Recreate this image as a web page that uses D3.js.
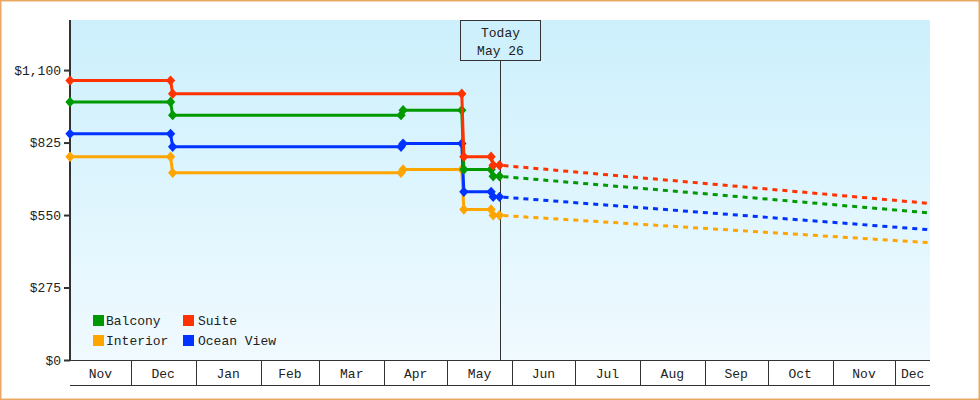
<!DOCTYPE html>
<html>
<head>
<meta charset="utf-8">
<script src="https://cdn.jsdelivr.net/npm/d3@7"></script>
<style>
  body { margin: 0; background: #fff; }
  svg text { font-family: "Liberation Mono", "DejaVu Sans Mono", monospace; font-size: 13px; fill: #222; }
</style>
</head>
<body>
<div id="container"></div>
<script>
// Cabin categories and price history (step changes)
var categories = ["Balcony", "Suite", "Interior", "Ocean View"];
var colors = ["#009900", "#ff3300", "#ffa500", "#0033ff"];

var balconyDates = ["2018-11-02", "2018-12-20", "2018-12-21", "2019-04-09", "2019-04-10", "2019-05-08", "2019-05-09", "2019-05-22", "2019-05-23", "2019-05-26"];
var balconyPrices = [979, 979, 929, 929, 948, 948, 723, 723, 697, 697];

var suiteDates = ["2018-11-02", "2018-12-20", "2018-12-21", "2019-05-08", "2019-05-09", "2019-05-22", "2019-05-23", "2019-05-26"];
var suitePrices = [1060, 1060, 1010, 1010, 771, 771, 739, 739];

var interiorDates = ["2018-11-02", "2018-12-20", "2018-12-21", "2019-04-09", "2019-04-10", "2019-05-08", "2019-05-09", "2019-05-22", "2019-05-23", "2019-05-26"];
var interiorPrices = [771, 771, 710, 710, 723, 723, 571, 571, 549, 549];

var oceanDates = ["2018-11-02", "2018-12-20", "2018-12-21", "2019-04-09", "2019-04-10", "2019-05-08", "2019-05-09", "2019-05-22", "2019-05-23", "2019-05-26"];
var oceanPrices = [858, 858, 809, 809, 821, 821, 638, 638, 619, 619];

// Projected prices (dashed), today -> end of chart
var forecastDates = ["2019-05-26", "2019-12-17T12:00"];
var balconyForecast = [697, 558];
var suiteForecast = [739, 594];
var interiorForecast = [549, 445];
var oceanForecast = [619, 494];

var yTicks = [0, 275, 550, 825, 1100];
var todayDate = "2019-05-26T10:00";
var todayLabel = ["Today", "May 26"];

var parse = d3.isoParse;

function zip(dates, values) {
	return dates.map(function(d, i) { return {date: parse(d), value: values[i]}; });
}

var series = [
	{name: "Balcony", color: colors[0], hist: zip(balconyDates, balconyPrices), fc: zip(forecastDates, balconyForecast)},
	{name: "Suite", color: colors[1], hist: zip(suiteDates, suitePrices), fc: zip(forecastDates, suiteForecast)},
	{name: "Interior", color: colors[2], hist: zip(interiorDates, interiorPrices), fc: zip(forecastDates, interiorForecast)},
	{name: "Ocean View", color: colors[3], hist: zip(oceanDates, oceanPrices), fc: zip(forecastDates, oceanForecast)}
];

var width = 980, height = 400;
var plotLeft = 70, plotRight = 930, plotTop = 20, plotBottom = 360;

var svg = d3.select("#container")
			.append("svg")
			.attr("width", width)
			.attr("height", height);

// Background gradient
var grad = svg.append("defs").append("linearGradient")
	.attr("id", "bg")
	.attr("x1", 0).attr("y1", 0).attr("x2", 0).attr("y2", 1);
grad.append("stop").attr("offset", "0%").attr("stop-color", "#ccf0fc");
grad.append("stop").attr("offset", "100%").attr("stop-color", "#f0faff");

// Outer frame
svg.append("rect")
	.attr("x", 0.75).attr("y", 0.75)
	.attr("width", width - 1.5).attr("height", height - 1.5)
	.attr("fill", "#fff")
	.attr("stroke", "#e8a862")
	.attr("stroke-width", 1.5);

svg.append("rect")
	.attr("x", plotLeft).attr("y", plotTop)
	.attr("width", plotRight - plotLeft).attr("height", plotBottom - plotTop)
	.attr("fill", "url(#bg)");

// Scales
var x = d3.scaleTime()
	.domain([parse("2018-11-02"), parse("2019-12-17T12:00")])
	.range([plotLeft, plotRight]);
var y = d3.scaleLinear()
	.domain([0, 1290])
	.range([plotBottom, plotTop]);

// Y axis
var yAxis = svg.append("g")
	.attr("transform", "translate(" + plotLeft + ",0)")
	.call(d3.axisLeft(y).tickValues(yTicks).tickFormat(d3.format("$,")).tickSize(6).tickPadding(3));
yAxis.select(".domain").remove();
yAxis.selectAll("line").attr("stroke", "#333").attr("stroke-width", 2);
yAxis.selectAll("text").attr("fill", "#333").style("font-family", "Liberation Mono, DejaVu Sans Mono").style("font-size", "13px");

svg.append("line")
	.attr("x1", plotLeft).attr("x2", plotLeft)
	.attr("y1", plotTop).attr("y2", plotBottom + 1)
	.attr("stroke", "#333").attr("stroke-width", 2);

// Month band axis
var months = d3.timeMonth.range(d3.timeMonth.floor(x.domain()[0]), x.domain()[1]);
var bandAxis = svg.append("g");
bandAxis.append("line")
	.attr("x1", plotLeft).attr("x2", plotRight)
	.attr("y1", plotBottom + 0.5).attr("y2", plotBottom + 0.5)
	.attr("stroke", "#333");
bandAxis.append("line")
	.attr("x1", plotLeft).attr("x2", plotRight)
	.attr("y1", plotBottom + 25.5).attr("y2", plotBottom + 25.5)
	.attr("stroke", "#333");
months.forEach(function(m) {
	var start = Math.max(x(m), plotLeft);
	var end = Math.min(x(d3.timeMonth.offset(m, 1)), plotRight);
	if (x(m) > plotLeft) {
		bandAxis.append("line")
			.attr("x1", Math.round(x(m)) + 0.5).attr("x2", Math.round(x(m)) + 0.5)
			.attr("y1", plotBottom).attr("y2", plotBottom + 25)
			.attr("stroke", "#333");
	}
	bandAxis.append("text")
		.attr("x", (start + end) / 2)
		.attr("y", plotBottom + 18)
		.attr("text-anchor", "middle")
		.text(d3.timeFormat("%b")(m));
});

// Today marker
var tx = Math.round(x(parse(todayDate))) + 0.5;
svg.append("line")
	.attr("x1", tx).attr("x2", tx)
	.attr("y1", 61).attr("y2", plotBottom)
	.attr("stroke", "#333");
svg.append("rect")
	.attr("x", tx - 40).attr("y", 20.5)
	.attr("width", 80).attr("height", 40)
	.attr("fill", "none")
	.attr("stroke", "#333");
svg.selectAll(".today")
	.data(todayLabel)
	.enter().append("text")
	.attr("class", "today")
	.attr("x", tx)
	.attr("y", function(d, i) { return 37 + i * 18; })
	.attr("text-anchor", "middle")
	.attr("fill", "#333")
	.text(function(d) { return d; });

// Lines
var line = d3.line()
	.x(function(d) { return x(d.date); })
	.y(function(d) { return y(d.value); });

var marker = d3.symbol().type(d3.symbolSquare).size(54);

// draw order: orange, blue, green, red on top
var order = [2, 3, 0, 1];
order.forEach(function(k) {
	var s = series[k];
	svg.append("path")
		.attr("d", line(s.fc))
		.attr("fill", "none")
		.attr("stroke", s.color)
		.attr("stroke-width", 3)
		.attr("stroke-dasharray", "5,5")
		.attr("stroke-dashoffset", -4);
	svg.append("path")
		.attr("d", line(s.hist))
		.attr("fill", "none")
		.attr("stroke", s.color)
		.attr("stroke-width", 3);
	svg.selectAll(".m" + k)
		.data(s.hist)
		.enter().append("path")
		.attr("class", "m" + k)
		.attr("d", marker)
		.attr("fill", s.color)
		.attr("transform", function(d) {
			return "translate(" + x(d.date) + "," + y(d.value) + ") scale(0.9,1) rotate(45)";
		});
});

// Legend
var legend = svg.selectAll(".legend")
	.data(series)
	.enter().append("g")
	.attr("class", "legend")
	.attr("transform", function(d, i) {
		return "translate(" + (93 + (i % 2) * 90) + "," + (315 + Math.floor(i / 2) * 20) + ")";
	});
legend.append("rect")
	.attr("width", 11).attr("height", 11)
	.attr("fill", function(d) { return d.color; });
legend.append("text")
	.attr("x", function(d, i) { return i % 2 ? 15 : 13; })
	.attr("y", 10)
	.text(function(d) { return d.name; });
</script>
</body>
</html>
